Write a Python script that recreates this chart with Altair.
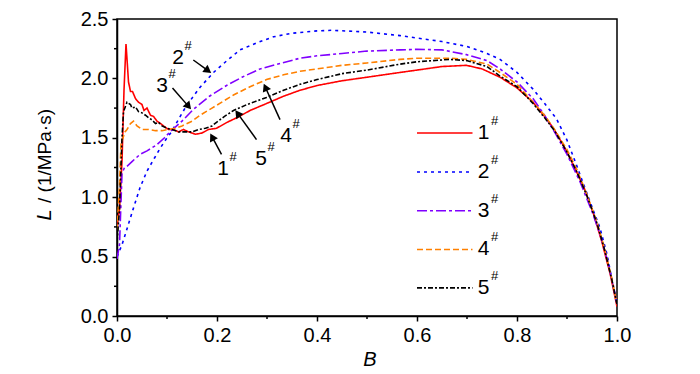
import math
import altair as alt
import pandas as pd

# ---------------- data ----------------
B1 = [0, 0.005, 0.01, 0.014, 0.018, 0.021, 0.023, 0.027, 0.031, 0.037, 0.043, 0.05, 0.054, 0.06, 0.067,
      0.073, 0.08, 0.087, 0.093, 0.103, 0.113, 0.123, 0.133, 0.143, 0.157, 0.17, 0.183, 0.199, 0.22, 0.245,
      0.266, 0.3, 0.333, 0.366, 0.4, 0.45, 0.5, 0.566, 0.6, 0.65, 0.699, 0.73, 0.766, 0.8, 0.832,
      0.855, 0.873, 0.895, 0.913, 0.935, 0.953, 0.97, 0.986, 1.0]
L1 = [0.76, 0.9, 1.3, 1.9, 2.29, 2.1, 1.97, 1.89, 1.89, 1.83, 1.80, 1.78, 1.73, 1.75, 1.69,
      1.68, 1.64, 1.62, 1.60, 1.57, 1.57, 1.55, 1.57, 1.55, 1.53, 1.54, 1.57, 1.58, 1.63, 1.68,
      1.73, 1.79, 1.85, 1.90, 1.94, 1.98, 2.01, 2.05, 2.07, 2.10, 2.11, 2.08, 2.01, 1.92, 1.80,
      1.68, 1.58, 1.42, 1.27, 1.07, 0.86, 0.62, 0.36, 0.08]

B2 = [0, 0.005, 0.01, 0.019, 0.033, 0.046, 0.06, 0.075, 0.086, 0.1, 0.109, 0.125, 0.139, 0.165, 0.193,
      0.22, 0.246, 0.28, 0.313, 0.35, 0.4, 0.43, 0.5, 0.566, 0.6, 0.65, 0.699, 0.74, 0.766, 0.8,
      0.832, 0.855, 0.879, 0.9, 0.919, 0.94, 0.966, 0.98, 0.993, 1.0]
L2 = [0.5, 0.55, 0.6, 0.72, 0.91, 1.08, 1.22, 1.33, 1.41, 1.5, 1.55, 1.67, 1.77, 1.92, 2.05,
      2.15, 2.24, 2.30, 2.35, 2.38, 2.40, 2.405, 2.39, 2.36, 2.34, 2.31, 2.27, 2.21, 2.16, 2.05,
      1.91, 1.79, 1.66, 1.48, 1.27, 1.03, 0.74, 0.52, 0.24, 0.1]

B3 = [0, 0.005, 0.01, 0.015, 0.02, 0.03, 0.046, 0.06, 0.079, 0.095, 0.106, 0.13, 0.153, 0.185, 0.219,
      0.25, 0.286, 0.33, 0.366, 0.4, 0.45, 0.5, 0.566, 0.6, 0.65, 0.699, 0.74, 0.766, 0.8, 0.832,
      0.855, 0.879, 0.9, 0.926, 0.95, 0.966, 0.98, 0.993, 1.0]
L3 = [0.48, 0.6, 1.2, 1.25, 1.26, 1.3, 1.36, 1.39, 1.44, 1.5, 1.55, 1.64, 1.74, 1.85, 1.94,
      2.01, 2.08, 2.13, 2.17, 2.19, 2.21, 2.23, 2.24, 2.245, 2.24, 2.20, 2.15, 2.08, 1.97, 1.83,
      1.69, 1.52, 1.36, 1.13, 0.88, 0.69, 0.48, 0.25, 0.1]

B4 = [0, 0.005, 0.008, 0.012, 0.016, 0.02, 0.027, 0.033, 0.04, 0.05, 0.063, 0.077, 0.09, 0.103, 0.117,
      0.13, 0.15, 0.166, 0.19, 0.233, 0.266, 0.299, 0.333, 0.366, 0.4, 0.45, 0.5, 0.566, 0.6, 0.666,
      0.699, 0.74, 0.766, 0.8, 0.832, 0.855, 0.875, 0.9, 0.92, 0.94, 0.96, 0.975, 0.99, 1.0]
L4 = [0.72, 1.1, 1.45, 1.5, 1.55, 1.57, 1.62, 1.64, 1.60, 1.57, 1.57, 1.56, 1.56, 1.57, 1.58,
      1.60, 1.64, 1.69, 1.75, 1.86, 1.93, 1.99, 2.03, 2.06, 2.08, 2.11, 2.13, 2.16, 2.17, 2.17,
      2.16, 2.12, 2.05, 1.95, 1.80, 1.69, 1.57, 1.40, 1.23, 1.02, 0.79, 0.57, 0.31, 0.1]

B5 = [0, 0.005, 0.01, 0.013, 0.02, 0.027, 0.03, 0.037, 0.043, 0.05, 0.057, 0.063, 0.07, 0.077, 0.083,
      0.09, 0.1, 0.11, 0.123, 0.137, 0.15, 0.163, 0.177, 0.19, 0.199, 0.215, 0.233, 0.26, 0.299, 0.333,
      0.366, 0.4, 0.45, 0.5, 0.566, 0.6, 0.666, 0.699, 0.74, 0.766, 0.8, 0.832, 0.855, 0.875, 0.9,
      0.92, 0.94, 0.96, 0.975, 0.99, 1.0]
L5 = [0.62, 0.9, 1.5, 1.72, 1.80, 1.78, 1.75, 1.76, 1.72, 1.71, 1.69, 1.67, 1.65, 1.62, 1.63,
      1.60, 1.58, 1.57, 1.55, 1.55, 1.55, 1.57, 1.58, 1.60, 1.63, 1.68, 1.73, 1.78, 1.84, 1.90,
      1.95, 1.99, 2.04, 2.07, 2.12, 2.14, 2.16, 2.15, 2.10, 2.02, 1.93, 1.79, 1.67, 1.56, 1.38,
      1.21, 1.01, 0.78, 0.56, 0.3, 0.1]

SERIES = ["1", "2", "3", "4", "5"]
COLORS = ["#ff0000", "#0000ff", "#8000ff", "#ff8000", "#000000"]
DASHES = [[1, 0], [3, 4], [10, 3, 3, 3], [6, 3], [5, 2, 2, 2]]

X_TICKS = [0.0, 0.2, 0.4, 0.6, 0.8, 1.0]
X_MINOR = [0.1, 0.3, 0.5, 0.7, 0.9]
Y_TICKS = [0.0, 0.5, 1.0, 1.5, 2.0, 2.5]
Y_MINOR = [0.25, 0.75, 1.25, 1.75, 2.25]

# legend (inside plot, data coordinates)
LEG_L = [1.541, 1.212, 0.886, 0.560, 0.237]
LEG_B0, LEG_B1, LEG_TXT_B = 0.6, 0.711, 0.733

# arrow annotations
ANN_TXT = ["2", "3", "1", "5", "4"]
ANN_B = [0.122, 0.09, 0.212, 0.288, 0.338]
ANN_L = [2.170, 1.936, 1.241, 1.325, 1.513]
TAIL_B = [0.1526, 0.111, 0.209, 0.279, 0.326]
TAIL_L = [2.155, 1.919, 1.360, 1.485, 1.653]
HEAD_B = [0.1894, 0.149, 0.186, 0.236, 0.293]
HEAD_L = [2.043, 1.736, 1.541, 1.736, 1.960]

# ---------------- chart ----------------
W, H = 500, 297
XMAX, YMAX = 1.0, 2.5
FONT = "Liberation Sans"

xs = alt.Scale(domain=[0, XMAX], nice=False, zero=False)
ys = alt.Scale(domain=[0, YMAX], nice=False, zero=False)
xaxis = alt.Axis(values=X_TICKS, format=".1f", tickSize=5, labelPadding=4, title=None, grid=False,
                 labelFlush=False)
yaxis = alt.Axis(values=Y_TICKS, format=".1f", tickSize=5, labelPadding=4, title=None, grid=False,
                 labelFlush=False)


def X(field):
    return alt.X(field, type="quantitative", scale=xs, axis=xaxis)


def Y(field):
    return alt.Y(field, type="quantitative", scale=ys, axis=yaxis)


layers = []
all_B = [B1, B2, B3, B4, B5]
all_L = [L1, L2, L3, L4, L5]
for i in range(5):
    df = pd.DataFrame({"B": all_B[i], "L": all_L[i]})
    layers.append(
        alt.Chart(df).mark_line(color=COLORS[i], strokeDash=DASHES[i], strokeWidth=1.6, clip=True)
        .encode(x=X("B"), y=Y("L"))
    )

# legend
for i in range(5):
    ldf = pd.DataFrame({"B": [LEG_B0], "b1": [LEG_B1], "L": [LEG_L[i]], "bt": [LEG_TXT_B], "t": [SERIES[i]]})
    layers.append(
        alt.Chart(ldf).mark_rule(color=COLORS[i], strokeDash=DASHES[i], strokeWidth=1.6)
        .encode(x=X("B"), x2="b1:Q", y=Y("L"))
    )
    layers.append(
        alt.Chart(ldf).mark_text(font=FONT, fontSize=21, color="black", align="center", baseline="middle")
        .encode(x=X("bt"), y=Y("L"), text="t:N")
    )
    layers.append(
        alt.Chart(ldf).mark_text(font=FONT, fontSize=13, color="black", align="center", baseline="middle",
                                 dx=11, dy=-12)
        .encode(x=X("bt"), y=Y("L"), text=alt.value("#"))
    )

# arrows
px, py = W / XMAX, H / YMAX
rows = []
for i in range(5):
    dx = (HEAD_B[i] - TAIL_B[i]) * px
    dy = -(HEAD_L[i] - TAIL_L[i]) * py
    ln = math.hypot(dx, dy)
    ux, uy = dx / ln, dy / ln
    ang = math.degrees(math.atan2(dx, -dy)) % 360
    cb = HEAD_B[i] - ux * 4.5 / px
    cl = HEAD_L[i] + uy * 4.5 / py
    rows.append({"tb": TAIL_B[i], "tl": TAIL_L[i], "cb": cb, "cl": cl, "ang": ang,
                 "ab": ANN_B[i], "al": ANN_L[i], "t": ANN_TXT[i]})
adf = pd.DataFrame(rows)
layers.append(
    alt.Chart(adf).mark_rule(color="black", strokeWidth=1.5)
    .encode(x=X("tb"), x2="cb:Q", y=Y("tl"), y2="cl:Q")
)
layers.append(
    alt.Chart(adf).mark_point(shape="triangle-up", filled=True, color="black", opacity=1, size=80, strokeWidth=0)
    .encode(x=X("cb"), y=Y("cl"), angle=alt.Angle("ang:Q", scale=None))
)
layers.append(
    alt.Chart(adf).mark_text(font=FONT, fontSize=21, color="black", align="center", baseline="middle")
    .encode(x=X("ab"), y=Y("al"), text="t:N")
)
layers.append(
    alt.Chart(adf).mark_text(font=FONT, fontSize=13, color="black", align="center", baseline="middle",
                             dx=10, dy=-12)
    .encode(x=X("ab"), y=Y("al"), text=alt.value("#"))
)

# minor ticks
mx = pd.DataFrame({"m": X_MINOR})
my = pd.DataFrame({"m": Y_MINOR})
layers.append(
    alt.Chart(mx).mark_rule(color="black", strokeWidth=1.5)
    .encode(x=X("m"), y=alt.value(H), y2=alt.value(H + 3))
)
layers.append(
    alt.Chart(my).mark_rule(color="black", strokeWidth=1.5)
    .encode(y=Y("m"), x=alt.value(0), x2=alt.value(-3))
)

# axis titles
one = pd.DataFrame({"k": [0]})
layers.append(
    alt.Chart(one).mark_text(font=FONT, fontSize=20, fontStyle="italic", color="black",
                             align="center", baseline="middle")
    .encode(x=alt.value(253), y=alt.value(341), text=alt.value("B"))
)
layers.append(
    alt.Chart(one).mark_text(font=FONT, fontSize=20, fontStyle="italic", color="black",
                             align="center", baseline="middle", angle=270)
    .encode(x=alt.value(-72), y=alt.value(196), text=alt.value("L"))
)
layers.append(
    alt.Chart(one).mark_text(font=FONT, fontSize=19, color="black",
                             align="center", baseline="middle", angle=270)
    .encode(x=alt.value(-72), y=alt.value(137), text=alt.value("/ (1/MPa·s)"))
)

chart = (
    alt.layer(*layers)
    .properties(width=W, height=H, padding={"left": 109, "top": 11, "right": 75, "bottom": 58},
                autosize=alt.AutoSizeParams(type="none"))
    .configure_view(stroke="black", strokeWidth=1.5)
    .configure_axis(domainColor="black", domainWidth=1.5, tickColor="black", tickWidth=1.5,
                    labelColor="black", labelFont=FONT, labelFontSize=20)
)

chart.save("out.html", embed_options={"renderer": "svg", "actions": False})
